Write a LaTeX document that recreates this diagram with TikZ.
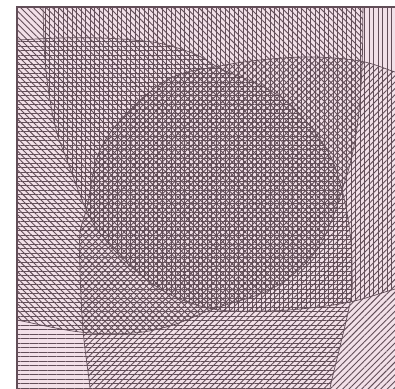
\documentclass[tikz,border=0pt]{standalone}
\usepackage{xcolor}
\usetikzlibrary{patterns.meta}
\definecolor{venpink}{RGB}{242,224,232}
\definecolor{venink}{RGB}{98,78,88}
% boundaries of the four sets (y grows upward, top edge of picture at 0)
\newcommand{\curveTL}{plot[smooth,tension=0.6] coordinates {(364,15) (363,-7) (362,-67) (358,-120) (351,-160) (342,-190) (333,-217) (317,-250) (290,-277) (260,-294) (213,-309) (173,-325) (133,-333) (80,-332) (17,-320) (-15,-314)}}
\newcommand{\curveTR}{plot[smooth,tension=0.6] coordinates {(43,15) (43,-7) (45,-60) (50,-100) (57,-133) (67,-160) (85,-207) (100,-233) (127,-263) (167,-293) (213,-309) (260,-311) (300,-309) (350,-302) (395,-289) (420,-283)}}
\newcommand{\curveBL}{plot[smooth,tension=0.6] coordinates {(-15,-41) (17,-40) (60,-38) (100,-38) (133,-40) (163,-44) (197,-55) (223,-70) (260,-85) (293,-107) (327,-150) (342,-190) (350,-233) (352,-270) (350,-303) (330,-388) (325,-420)}}
\newcommand{\curveBR}{plot[smooth,tension=0.6] coordinates {(92,-420) (90,-388) (83,-330) (80,-270) (80,-233) (87,-207) (100,-150) (133,-107) (173,-77) (220,-66) (260,-60) (310,-57) (360,-61) (395,-72) (420,-80)}}

\begin{document}
\begin{tikzpicture}[x=1pt, y=1pt,
    hatch/.style={pattern={Lines[angle=#1,distance=4.5pt,line width=0.9pt]}, pattern color=venink},
    rim/.style={draw=venink, line width=0.7pt},
    boxline/.style={draw=venink, line width=1.2pt}
]
\useasboundingbox (0,0) rectangle (395,-388);
\fill[white] (0,0) rectangle (395,-388);

\begin{scope}
\clip (17,-7) rectangle (400,-395);
\fill[venpink] (17,-7) rectangle (400,-395);

% the four sets
\fill[hatch=-45] \curveTL -- (-15,15) -- cycle;
\fill[hatch=90]  \curveTR -- (420,15) -- cycle;
\fill[hatch=0]   \curveBL -- (-15,-420) -- cycle;
\fill[hatch=45]  \curveBR -- (420,-420) -- cycle;

\draw[rim] \curveTL;
\draw[rim] \curveTR;
\draw[rim] \curveBL;
\draw[rim] \curveBR;
\end{scope}

\draw[boxline] (17,-395) |- (400,-7);
\end{tikzpicture}
\end{document}
